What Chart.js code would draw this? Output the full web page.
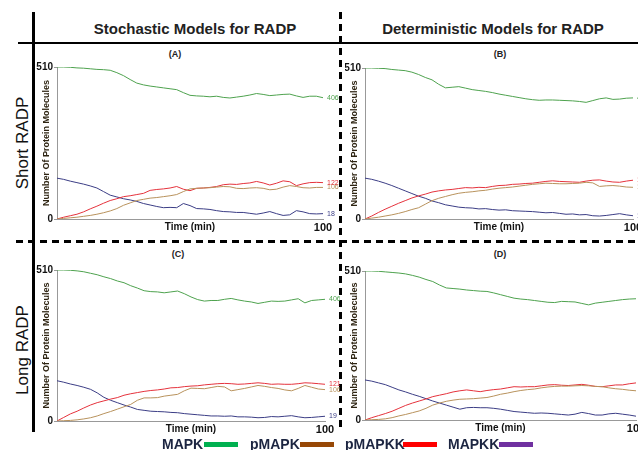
<!DOCTYPE html>
<html>
<head>
<meta charset="utf-8">
<script src="https://cdn.jsdelivr.net/npm/chart.js@4.4.0/dist/chart.umd.min.js"></script>
<style>
body { margin: 0; background: #fff; }
#fig { position: relative; width: 638px; height: 450px; overflow: hidden; font-family: Arial, "Liberation Sans", sans-serif; background: #fff; }
canvas { position: absolute; }
.hdr { position: absolute; top: 20px; font-size: 15px; font-weight: bold; color: #222; white-space: nowrap; transform: translateX(-50%); }
.row { position: absolute; font-size: 17px; color: #111; white-space: nowrap; transform: translate(-50%, -50%) rotate(-90deg); }
.tag { position: absolute; font-size: 9px; font-weight: bold; color: #222; transform: translate(-50%, -50%); }
.leg { position: absolute; top: 436px; font-size: 14px; font-weight: bold; color: #1c2541; white-space: nowrap; }
.bar { position: absolute; top: 442px; height: 5px; width: 34px; }
.line { position: absolute; background: #000; }
</style>
</head>
<body>
<div id="fig">
  <div class="line" style="left:18px;top:42px;width:620px;height:2px"></div>
  <div class="line" style="left:32px;top:12px;width:3px;height:420px"></div>
  <div style="position:absolute;left:339px;top:12px;width:3px;height:418px;background:repeating-linear-gradient(to bottom,#000 0 7px,transparent 7px 12px)"></div>
  <div style="position:absolute;left:16px;top:240px;width:622px;height:3px;background:repeating-linear-gradient(to right,#000 0 7px,transparent 7px 12px)"></div>

  <div class="hdr" style="left:195px">Stochastic Models for RADP</div>
  <div class="hdr" style="left:493px">Deterministic Models for RADP</div>
  <div class="row" style="left:23px;top:143px">Short RADP</div>
  <div class="row" style="left:23px;top:350px">Long RADP</div>
  <div class="tag" style="left:175px;top:54px">(A)</div>
  <div class="tag" style="left:500px;top:54px">(B)</div>
  <div class="tag" style="left:178px;top:254px">(C)</div>
  <div class="tag" style="left:500px;top:254px">(D)</div>

  <canvas id="chartA" width="340" height="185" style="left:0;top:50px"></canvas>
  <canvas id="chartB" width="293" height="185" style="left:345px;top:50px"></canvas>
  <canvas id="chartC" width="340" height="184" style="left:0;top:253px"></canvas>
  <canvas id="chartD" width="293" height="183" style="left:345px;top:253px"></canvas>

  <div class="leg" style="left:162px">MAPK</div>
  <div class="bar" style="left:204px;background:#00b050"></div>
  <div class="leg" style="left:250px">pMAPK</div>
  <div class="bar" style="left:300px;background:#974806"></div>
  <div class="leg" style="left:345px">pMAPKK</div>
  <div class="bar" style="left:403px;background:#ff0000"></div>
  <div class="leg" style="left:448px">MAPKK</div>
  <div class="bar" style="left:499px;background:#7030a0"></div>
</div>
<script>
// time points (min)
const TIME = [0,2.5,5,7.5,10,12.5,15,17.5,20,22.5,25,27.5,30,32.5,35,37.5,40,42.5,45,47.5,50,52.5,55,57.5,60,62.5,65,67.5,70,72.5,75,77.5,80,82.5,85,87.5,90,92.5,95,97.5,100];
const SERIES = ['MAPK', 'pMAPK', 'pMAPKK', 'MAPKK'];
const COLORS = ['#4ea24e', '#b8925c', '#e5323c', '#3b3d85'];
const Y_TITLE = 'Number Of Protein Molecules';
const X_TITLE = 'Time (min)';
const Y_TICKS = [0, 510];
const X_TICKS = [50, 100];

// (A) short RADP, stochastic
const A_MAPK   = [510,510,509,507,506,504,502,501,499,491,481,468,456,450,446,443,440,437,434,424,415,413,412,410,412,408,406,409,412,416,421,418,414,416,418,419,413,408,412,412,407];
const A_PMAPK  = [0,2,4,6,9,12,16,21,27,35,46,54,62,66,70,72,75,78,82,92,101,103,104,105,107,109,108,103,102,104,105,103,98,100,107,112,109,105,104,106,106];
const A_PMAPKK = [0,6,11,16,24,34,43,53,62,68,75,78,82,86,96,99,101,104,109,100,95,103,104,106,109,115,117,116,119,121,126,121,114,120,128,125,112,118,122,123,122];
const A_MAPKK  = [137,133,127,122,117,111,104,92,80,74,68,64,59,52,47,42,38,39,38,52,45,35,34,32,28,25,24,22,22,19,16,20,25,18,12,14,28,24,18,17,18];
const A_ENDS = ['406', '106', '122', '18'];

// (B) short RADP, deterministic
const B_MAPK   = [510,510,509,508,505,503,501,496,488,478,470,455,443,445,447,442,437,434,431,427,422,418,414,410,406,403,401,402,402,401,400,399,397,394,400,406,409,404,405,408,409];
const B_PMAPK  = [0,3,6,10,14,19,25,32,38,50,62,70,76,82,87,90,92,95,97,101,104,106,108,111,114,117,119,121,120,119,119,120,121,124,122,110,112,113,111,108,107];
const B_PMAPKK = [0,10,22,33,43,53,62,71,78,84,91,95,98,100,103,106,105,107,106,110,113,114,117,118,120,121,124,127,129,127,126,125,124,128,131,132,128,125,124,128,131];
const B_MAPKK  = [138,134,128,121,113,104,95,86,77,70,61,55,48,44,40,38,37,34,35,32,30,31,28,27,26,25,23,21,22,19,16,17,14,15,11,10,12,15,18,14,11];
const B_ENDS = ['406', '106', '122', '11'];

// (C) long RADP, stochastic
const C_MAPK   = [510,510,509,507,504,499,494,487,481,473,467,457,449,440,437,436,433,436,439,430,419,410,405,407,407,411,414,409,405,402,397,401,405,404,405,409,413,399,407,409,411];
const C_PMAPK  = [0,1,2,4,7,11,17,25,32,40,48,56,70,78,78,79,84,87,90,102,111,110,109,113,117,115,102,106,110,115,120,117,113,110,105,102,110,120,114,108,106];
const C_PMAPKK = [0,12,24,33,44,54,62,68,74,79,87,92,96,100,103,105,108,112,113,116,118,119,122,124,126,127,126,124,125,127,129,127,124,125,124,124,126,129,128,126,124];
const C_MAPKK  = [136,131,125,120,114,107,95,80,70,62,54,47,39,36,33,32,31,29,28,25,23,21,19,17,17,16,17,14,14,13,11,12,15,14,16,18,14,11,12,14,16];
const C_ENDS = ['406', '106', '121', '19'];

// (D) long RADP, deterministic
const D_MAPK   = [510,510,509,507,505,503,500,495,489,481,474,462,452,450,448,445,443,441,440,435,429,423,417,414,412,409,406,403,402,406,405,404,399,394,400,403,406,409,412,414,415];
const D_PMAPK  = [0,1,2,4,8,14,19,25,31,40,51,58,64,68,71,72,73,75,77,82,88,92,97,101,104,106,110,113,115,116,116,117,118,117,115,114,110,107,105,102,100];
const D_PMAPKK = [0,8,15,22,30,40,50,58,65,72,80,85,90,96,100,103,100,97,101,104,106,110,114,113,114,114,117,120,121,119,118,120,122,119,115,114,117,120,120,124,127];
const D_MAPKK  = [137,133,127,121,112,103,96,88,81,73,65,58,51,44,37,42,43,42,42,40,37,33,29,27,25,23,24,23,21,19,17,20,26,22,17,17,21,23,20,17,13];
const D_ENDS = ['406', '100', '122', '13'];

const FONT = 'Arial, "Liberation Sans", sans-serif';

// y title and end-value labels beside each panel
const panelDecor = {
    id: 'panelDecor',
    afterDraw(chart, args, opts) {
        const { ctx, chartArea, scales } = chart;
        ctx.save();
        ctx.font = 'bold 9px ' + FONT;
        ctx.fillStyle = '#2e2412';
        ctx.translate(chartArea.left - 10, (chartArea.top + chartArea.bottom) / 2);
        ctx.rotate(-Math.PI / 2);
        ctx.textAlign = 'center';
        ctx.textBaseline = 'middle';
        ctx.fillText(Y_TITLE, 0, 0);
        ctx.restore();

        ctx.save();
        ctx.font = '7px ' + FONT;
        ctx.textBaseline = 'middle';
        chart.data.datasets.forEach((ds, i) => {
            const last = ds.data[ds.data.length - 1];
            ctx.fillStyle = ds.borderColor;
            ctx.fillText(opts.ends[i], chartArea.right + 4, scales.y.getPixelForValue(last.y));
        });
        ctx.restore();
    }
};

function makePanel(id, values, ends, yWidth, padTop, padRight) {
    const ctx = document.getElementById(id).getContext('2d');
    return new Chart(ctx, {
        type: 'line',
        data: {
            datasets: values.map((vals, i) => ({
                label: SERIES[i],
                data: TIME.map((t, k) => ({ x: t, y: vals[k] })),
                borderColor: COLORS[i],
                borderWidth: 1,
                pointRadius: 0,
                tension: 0,
                fill: false
            }))
        },
        options: {
            responsive: false,
            animation: false,
            layout: { padding: { left: 0, right: padRight, top: padTop, bottom: 0 } },
            scales: {
                x: {
                    type: 'linear',
                    min: 0,
                    max: 100,
                    afterBuildTicks: axis => { axis.ticks = X_TICKS.map(v => ({ value: v })); },
                    afterFit: axis => {
                        axis.height = 16;
                        axis.paddingLeft = 0;
                        axis.paddingRight = 0;
                    },
                    grid: { display: true, drawOnChartArea: false, drawTicks: false },
                    border: { display: true, color: '#999', width: 1 },
                    ticks: {
                        autoSkip: false,
                        maxRotation: 0,
                        padding: 2,
                        color: '#111',
                        font: c => ({ family: FONT, weight: 'bold', size: c.tick && c.tick.value === 50 ? 10 : 11 }),
                        callback: v => v === 50 ? X_TITLE : v
                    }
                },
                y: {
                    min: 0,
                    max: 510,
                    afterBuildTicks: axis => { axis.ticks = Y_TICKS.map(v => ({ value: v })); },
                    afterFit: axis => { axis.width = yWidth; },
                    grid: { display: true, drawOnChartArea: false, drawTicks: true, tickLength: 3, color: '#999' },
                    border: { display: true, color: '#999', width: 1 },
                    ticks: {
                        padding: 1,
                        color: '#111',
                        font: { family: FONT, weight: 'bold', size: 10 }
                    }
                }
            },
            plugins: {
                legend: { display: false },
                tooltip: { enabled: false },
                panelDecor: { ends: ends }
            }
        },
        plugins: [panelDecor]
    });
}

makePanel('chartA', [A_MAPK, A_PMAPK, A_PMAPKK, A_MAPKK], A_ENDS, 57, 17, 17);
makePanel('chartB', [B_MAPK, B_PMAPK, B_PMAPKK, B_MAPKK], B_ENDS, 20, 18, 5);
makePanel('chartC', [C_MAPK, C_PMAPK, C_PMAPKK, C_MAPKK], C_ENDS, 57, 17, 15);
makePanel('chartD', [D_MAPK, D_PMAPK, D_PMAPKK, D_MAPKK], D_ENDS, 20, 18, 2);
</script>
</body>
</html>
